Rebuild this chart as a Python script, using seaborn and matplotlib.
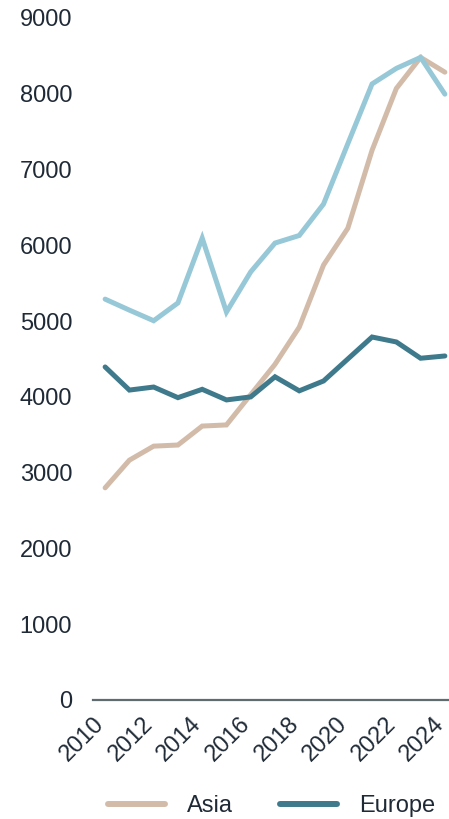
"""Regional trend lines, 2010-2024."""
import matplotlib
matplotlib.use("Agg")
import matplotlib.pyplot as plt
import matplotlib.transforms as mtransforms
import seaborn as sns
import pandas as pd

years = list(range(2010, 2025))
asia = [2800, 3165, 3350, 3365, 3615, 3630, 4030, 4430, 4920, 5740, 6225, 7255, 8070, 8480, 8285]
europe = [4395, 4090, 4130, 3990, 4100, 3960, 4000, 4265, 4080, 4210, 4500, 4790, 4725, 4510, 4540]
other = [5290, 5145, 5005, 5240, 6095, 5120, 5650, 6030, 6130, 6545, 7340, 8130, 8335, 8480, 7995]

series_names = ["Asia", "Europe", "Other"]
colors = {"Asia": "#d3bba9", "Europe": "#3f7a8c", "Other": "#97c8d7"}

df = pd.DataFrame({"year": years, "Asia": asia, "Europe": europe, "Other": other})
long = df.melt(id_vars="year", var_name="region", value_name="value")

sns.set_style("white")
plt.rcParams["font.family"] = ["Liberation Sans", "DejaVu Sans"]

fig = plt.figure(figsize=(4.49, 8.19), dpi=100)
ax = fig.add_axes([93 / 449, 1 - 700 / 819, 364 / 449, 682 / 819])

sns.lineplot(data=long, x="year", y="value", hue="region", hue_order=series_names,
             palette=colors, linewidth=3.6, ax=ax, legend=False,
             solid_capstyle="round", solid_joinstyle="miter")

ax.set_xlim(2009.5, 2024.5)
ax.set_ylim(0, 9000)
ax.set_yticks(range(0, 9001, 1000))
ax.set_xticks(range(2010, 2025, 2))
ax.set_xlabel("")
ax.set_ylabel("")
ax.tick_params(axis="both", length=0, labelsize=17, colors="#1f2a36")
ax.tick_params(axis="y", pad=15)
ax.tick_params(axis="x", pad=15)
shift = mtransforms.ScaledTranslation(-4 / 100, 0, fig.dpi_scale_trans)
for lbl in ax.get_xticklabels():
    lbl.set_rotation(45)
    lbl.set_ha("right")
    lbl.set_va("center")
    lbl.set_rotation_mode("anchor")
    lbl.set_transform(lbl.get_transform() + shift)

for side in ["top", "right", "left"]:
    ax.spines[side].set_visible(False)
ax.spines["bottom"].set_color("#5f6b6e")
ax.spines["bottom"].set_linewidth(1.6)

handles = [plt.Line2D([], [], color=colors[n], linewidth=4.3, solid_capstyle="round")
           for n in ["Asia", "Europe"]]
fig.legend(handles, ["Asia", "Europe"], loc="center left",
           bbox_to_anchor=(87 / 449, 1 - 806 / 819), ncol=2, frameon=False,
           fontsize=17, handlelength=2.4, columnspacing=2.0, handletextpad=0.93,
           labelcolor="#1f2a36")

fig.savefig("out.png", dpi=100)
